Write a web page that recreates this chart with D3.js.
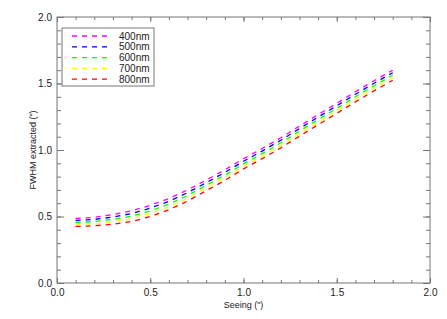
<!DOCTYPE html>
<html>
<head>
<meta charset="utf-8">
<script src="https://cdn.jsdelivr.net/npm/d3@7"></script>
<style>
  body { margin: 0; background: #fff; }
  text { font-family: "Liberation Sans", Arial, sans-serif; fill: #222; }
</style>
</head>
<body>
<figure id="chart" style="margin:0"></figure>
<script>
// seeing values (arcsec)
const seeing = [0.1, 0.2, 0.3, 0.4, 0.5, 0.6, 0.7, 0.8, 0.9, 1.0, 1.1, 1.2, 1.3, 1.4, 1.5, 1.6, 1.7, 1.8];

// extracted FWHM per wavelength
const fwhm400 = [0.485, 0.494, 0.514, 0.542, 0.584, 0.635, 0.700, 0.774, 0.851, 0.934, 1.011, 1.092, 1.180, 1.266, 1.351, 1.438, 1.521, 1.600];
const fwhm500 = [0.470, 0.478, 0.496, 0.522, 0.563, 0.614, 0.679, 0.754, 0.831, 0.915, 0.992, 1.073, 1.161, 1.247, 1.332, 1.419, 1.502, 1.581];
const fwhm600 = [0.455, 0.462, 0.478, 0.502, 0.542, 0.593, 0.658, 0.734, 0.811, 0.896, 0.973, 1.054, 1.142, 1.228, 1.313, 1.400, 1.483, 1.562];
const fwhm700 = [0.440, 0.446, 0.460, 0.482, 0.521, 0.572, 0.637, 0.714, 0.791, 0.877, 0.954, 1.035, 1.123, 1.209, 1.294, 1.381, 1.464, 1.543];
const fwhm800 = [0.425, 0.430, 0.442, 0.462, 0.500, 0.551, 0.616, 0.694, 0.771, 0.858, 0.935, 1.016, 1.104, 1.190, 1.275, 1.362, 1.445, 1.524];

const labels = ['400nm', '500nm', '600nm', '700nm', '800nm'];
const colors = ['#ff00ff', '#0000ff', '#00ff00', '#ffff00', '#ff0000'];

const xTicks = [0.0, 0.5, 1.0, 1.5, 2.0];
const yTicks = [0.0, 0.5, 1.0, 1.5, 2.0];

const series = [fwhm400, fwhm500, fwhm600, fwhm700, fwhm800];

const width = 447, height = 319;
const plot = { left: 57, right: 430, top: 17, bottom: 283 };
const axisColor = '#777';

const svg = d3.select('#chart')
  .append('svg')
  .attr('width', width)
  .attr('height', height);

const x = d3.scaleLinear().domain([0, 2]).range([plot.left, plot.right]);
const y = d3.scaleLinear().domain([0, 2]).range([plot.bottom, plot.top]);

const fmt = d3.format('.1f');
const minor = d3.range(0, 2.0001, 0.1);

// bottom axis (ticks point inward, IDL style)
const gb = svg.append('g')
  .attr('transform', 'translate(0,' + plot.bottom + ')')
  .call(d3.axisBottom(x).tickValues(xTicks).tickFormat(fmt).tickSize(-5).tickPadding(6));
gb.append('g').call(d3.axisBottom(x).tickValues(minor).tickFormat('').tickSize(-3));

// top axis
const gt = svg.append('g')
  .attr('transform', 'translate(0,' + plot.top + ')')
  .call(d3.axisTop(x).tickValues(xTicks).tickFormat('').tickSize(-5));
gt.append('g').call(d3.axisTop(x).tickValues(minor).tickFormat('').tickSize(-3));

// left axis
const gl = svg.append('g')
  .attr('transform', 'translate(' + plot.left + ',0)')
  .call(d3.axisLeft(y).tickValues(yTicks).tickFormat(fmt).tickSize(-7).tickPadding(5));
gl.append('g').call(d3.axisLeft(y).tickValues(minor).tickFormat('').tickSize(-4));

// right axis
const gr = svg.append('g')
  .attr('transform', 'translate(' + plot.right + ',0)')
  .call(d3.axisRight(y).tickValues(yTicks).tickFormat('').tickSize(-7));
gr.append('g').call(d3.axisRight(y).tickValues(minor).tickFormat('').tickSize(-4));

svg.selectAll('.domain').remove();
svg.selectAll('.tick line').attr('stroke', axisColor);
svg.selectAll('.tick text').style('font-size', '10px').attr('fill', '#222');

svg.append('rect')
  .attr('x', plot.left).attr('y', plot.top)
  .attr('width', plot.right - plot.left).attr('height', plot.bottom - plot.top)
  .attr('fill', 'none').attr('stroke', axisColor);

// axis titles
svg.append('text')
  .attr('x', (plot.left + plot.right) / 2).attr('y', 308)
  .attr('text-anchor', 'middle')
  .style('font-size', '9px')
  .text('Seeing (")');

svg.append('text')
  .attr('transform', 'translate(36,' + ((plot.top + plot.bottom) / 2) + ') rotate(-90)')
  .attr('text-anchor', 'middle')
  .style('font-size', '9px')
  .text('FWHM extracted (")');

// curves
const line = d3.line()
  .x((d, i) => x(seeing[i]))
  .y(d => y(d));

series.forEach((s, k) => {
  svg.append('path')
    .datum(s)
    .attr('d', line)
    .attr('fill', 'none')
    .attr('stroke', colors[k])
    .attr('stroke-width', 1.3)
    .attr('stroke-dasharray', '5,5');
});

// legend
const lg = svg.append('g');
lg.append('rect')
  .attr('x', 62).attr('y', 28)
  .attr('width', 92).attr('height', 58)
  .attr('fill', '#fff').attr('stroke', axisColor);

labels.forEach((lab, k) => {
  const ly = 36 + k * 10.8;
  lg.append('line')
    .attr('x1', 72).attr('x2', 107)
    .attr('y1', ly).attr('y2', ly)
    .attr('stroke', colors[k])
    .attr('stroke-width', 1.3)
    .attr('stroke-dasharray', '5,5');
  lg.append('text')
    .attr('x', 119).attr('y', ly + 3.5)
    .style('font-size', '10px')
    .text(lab);
});
</script>
</body>
</html>
